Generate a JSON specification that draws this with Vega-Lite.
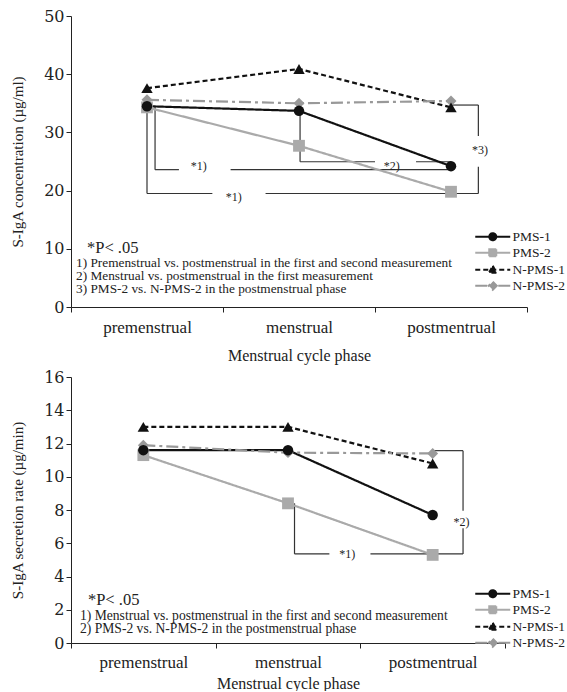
{
  "$schema": "https://vega.github.io/schema/vega-lite/v6.json",
  "padding": {"left": 10, "top": 8, "right": 0, "bottom": 0},
  "spacing": 6,
  "config": {
    "view": {"stroke": null},
    "axis": {"domainColor": "#222", "tickColor": "#222", "labelColor": "#222", "titleColor": "#222", "grid": false},
    "text": {"font": "Liberation Serif", "color": "#222"}
  },
  "datasets": {
    "top": [
      {"group": "PMS-1", "phase": "premenstrual", "x": 0.5, "v": 34.5},
      {"group": "PMS-1", "phase": "menstrual", "x": 1.5, "v": 33.7},
      {"group": "PMS-1", "phase": "postmentrual", "x": 2.5, "v": 24.2},
      {"group": "PMS-2", "phase": "premenstrual", "x": 0.5, "v": 34.3},
      {"group": "PMS-2", "phase": "menstrual", "x": 1.5, "v": 27.7},
      {"group": "PMS-2", "phase": "postmentrual", "x": 2.5, "v": 19.8},
      {"group": "N-PMS-1", "phase": "premenstrual", "x": 0.5, "v": 37.6},
      {"group": "N-PMS-1", "phase": "menstrual", "x": 1.5, "v": 40.9},
      {"group": "N-PMS-1", "phase": "postmentrual", "x": 2.5, "v": 34.3},
      {"group": "N-PMS-2", "phase": "premenstrual", "x": 0.5, "v": 35.6},
      {"group": "N-PMS-2", "phase": "menstrual", "x": 1.5, "v": 35.0},
      {"group": "N-PMS-2", "phase": "postmentrual", "x": 2.5, "v": 35.4}
    ],
    "bottom": [
      {"group": "PMS-1", "phase": "premenstrual", "x": 0.5, "v": 11.6},
      {"group": "PMS-1", "phase": "menstrual", "x": 1.5, "v": 11.6},
      {"group": "PMS-1", "phase": "postmentrual", "x": 2.5, "v": 7.7},
      {"group": "PMS-2", "phase": "premenstrual", "x": 0.5, "v": 11.3},
      {"group": "PMS-2", "phase": "menstrual", "x": 1.5, "v": 8.4},
      {"group": "PMS-2", "phase": "postmentrual", "x": 2.5, "v": 5.3},
      {"group": "N-PMS-1", "phase": "premenstrual", "x": 0.5, "v": 13.0},
      {"group": "N-PMS-1", "phase": "menstrual", "x": 1.5, "v": 13.0},
      {"group": "N-PMS-1", "phase": "postmentrual", "x": 2.5, "v": 10.8},
      {"group": "N-PMS-2", "phase": "premenstrual", "x": 0.5, "v": 11.9},
      {"group": "N-PMS-2", "phase": "menstrual", "x": 1.5, "v": 11.45},
      {"group": "N-PMS-2", "phase": "postmentrual", "x": 2.5, "v": 11.4}
    ],
    "topBr": [
      {"x": 0.553, "x2": 0.553, "v": 34.5, "v2": 23.6},
      {"x": 0.553, "x2": 0.71, "v": 23.6, "v2": 23.6},
      {"x": 1.05, "x2": 2.5, "v": 23.6, "v2": 23.6},
      {"x": 0.5, "x2": 0.5, "v": 34.3, "v2": 19.5},
      {"x": 0.5, "x2": 0.93, "v": 19.5, "v2": 19.5},
      {"x": 1.28, "x2": 2.68, "v": 19.5, "v2": 19.5},
      {"x": 2.68, "x2": 2.68, "v": 19.5, "v2": 24.1},
      {"x": 2.68, "x2": 2.68, "v": 29.4, "v2": 34.7},
      {"x": 2.5, "x2": 2.68, "v": 34.7, "v2": 34.7},
      {"x": 1.507, "x2": 1.507, "v": 33.7, "v2": 24.96},
      {"x": 1.507, "x2": 2.0, "v": 24.96, "v2": 24.96},
      {"x": 2.27, "x2": 2.5, "v": 24.96, "v2": 24.96}
    ],
    "topBrLabels": [
      {"x": 0.84, "v": 24.2, "t": "*1)"},
      {"x": 1.07, "v": 18.9, "t": "*1)"},
      {"x": 2.11, "v": 24.3, "t": "*2)"},
      {"x": 2.69, "v": 27.0, "t": "*3)"}
    ],
    "topNotes": [
      {"x": 0.033, "v": 7.6, "t": "1) Premenstrual vs. postmenstrual in the first and  second measurement"},
      {"x": 0.033, "v": 5.35, "t": "2) Menstrual vs. postmenstrual in the first measurement"},
      {"x": 0.033, "v": 3.1, "t": "3) PMS-2 vs. N-PMS-2 in the postmenstrual phase"}
    ],
    "topP": [{"x": 0.105, "v": 10.15, "t": "*P< .05"}],
    "botBr": [
      {"x": 1.545, "x2": 1.545, "v": 8.4, "v2": 5.36},
      {"x": 1.545, "x2": 1.786, "v": 5.36, "v2": 5.36},
      {"x": 2.07, "x2": 2.71, "v": 5.36, "v2": 5.36},
      {"x": 2.71, "x2": 2.71, "v": 5.36, "v2": 6.9},
      {"x": 2.71, "x2": 2.71, "v": 7.95, "v2": 11.57},
      {"x": 2.5, "x2": 2.71, "v": 11.57, "v2": 11.57}
    ],
    "botBrLabels": [
      {"x": 1.91, "v": 5.38, "t": "*1)"},
      {"x": 2.7, "v": 7.3, "t": "*2)"}
    ],
    "botNotes": [
      {"x": 0.062, "v": 1.65, "t": "1) Menstrual vs. postmenstrual in the first and  second measurement"},
      {"x": 0.062, "v": 0.85, "t": "2) PMS-2 vs. N-PMS-2 in the postmenstrual phase"}
    ],
    "botP": [{"x": 0.117, "v": 2.6, "t": "*P< .05"}]
  },
  "resolve": {
    "scale": {"fill": "independent", "stroke": "independent", "strokeDash": "independent", "shape": "independent"},
    "legend": {"fill": "independent", "stroke": "independent", "strokeDash": "independent", "shape": "independent"}
  },
  "vconcat": [
    {
      "width": 456,
      "height": 291,
      "layer": [
        {
          "data": {"name": "topBr"},
          "mark": {"type": "rule", "color": "#333", "strokeWidth": 1.2},
          "encoding": {
            "x": {"field": "x", "type": "quantitative", "scale": {"domain": [0, 3], "nice": false, "zero": false},
              "axis": {"title": "Menstrual cycle phase", "values": [0, 0.5, 1, 1.5, 2, 2.5, 3], "tickCount": 20,
                "labelExpr": "datum.value == 0.5 ? 'premenstrual' : datum.value == 1.5 ? 'menstrual' : datum.value == 2.5 ? 'postmentrual' : ''",
                "tickOpacity": {"condition": {"test": "datum.value % 1 !== 0", "value": 0}, "value": 1},
                "tickSize": 5, "labelPadding": 7, "labelFont": "Liberation Serif", "labelFontSize": 17,
                "labelFlush": false, "labelOverlap": false, "labelBound": false,
                "titleFont": "Liberation Serif", "titleFontSize": 16, "titleFontWeight": "normal", "titlePadding": 12}},
            "x2": {"field": "x2"},
            "y": {"field": "v", "type": "quantitative", "scale": {"domain": [0, 50], "nice": false},
              "axis": {"title": "S-IgA concentration (µg/ml)", "values": [0, 10, 20, 30, 40, 50], "tickCount": 20, "tickSize": 5, "labelPadding": 2,
                "labelOverlap": false, "labelFont": "DejaVu Serif", "labelFontSize": 16, "titleFont": "Liberation Serif", "titleFontSize": 15,
                "titleFontWeight": "normal", "titlePadding": 18}},
            "y2": {"field": "v2"}
          }
        },
        {
          "data": {"name": "top"},
          "mark": {"type": "line", "strokeWidth": 2.2},
          "encoding": {
            "x": {"field": "x", "type": "quantitative"},
            "y": {"field": "v", "type": "quantitative"},
            "stroke": {"field": "group", "type": "nominal", "scale": {"domain": ["PMS-1", "PMS-2", "N-PMS-1", "N-PMS-2"], "range": ["#111", "#aaa", "#111", "#999"]}},
            "strokeDash": {"field": "group", "type": "nominal", "scale": {"domain": ["PMS-1", "PMS-2", "N-PMS-1", "N-PMS-2"], "range": [[1, 0], [1, 0], [5, 3], [12, 4, 3, 4]]}}
          }
        },
        {"data": {"name": "top"}, "transform": [{"filter": "datum.group === 'PMS-2'"}],
          "mark": {"type": "point", "shape": "square", "filled": true, "color": "#aaa", "size": 140, "opacity": 1},
          "encoding": {"x": {"field": "x", "type": "quantitative"}, "y": {"field": "v", "type": "quantitative"}}},
        {"data": {"name": "top"}, "transform": [{"filter": "datum.group === 'N-PMS-2'"}],
          "mark": {"type": "point", "shape": "diamond", "filled": true, "color": "#999", "size": 120, "opacity": 1},
          "encoding": {"x": {"field": "x", "type": "quantitative"}, "y": {"field": "v", "type": "quantitative"}}},
        {"data": {"name": "top"}, "transform": [{"filter": "datum.group === 'PMS-1'"}],
          "mark": {"type": "point", "shape": "circle", "filled": true, "color": "#111", "size": 110, "opacity": 1},
          "encoding": {"x": {"field": "x", "type": "quantitative"}, "y": {"field": "v", "type": "quantitative"}}},
        {"data": {"name": "top"}, "transform": [{"filter": "datum.group === 'N-PMS-1'"}],
          "mark": {"type": "point", "shape": "triangle-up", "filled": true, "color": "#111", "size": 130, "opacity": 1},
          "encoding": {"x": {"field": "x", "type": "quantitative"}, "y": {"field": "v", "type": "quantitative"}}},
        {"data": {"name": "topBrLabels"},
          "mark": {"type": "text", "fontSize": 12, "align": "center", "baseline": "middle"},
          "encoding": {"x": {"field": "x", "type": "quantitative"}, "y": {"field": "v", "type": "quantitative"}, "text": {"field": "t"}}},
        {"data": {"name": "topNotes"},
          "mark": {"type": "text", "fontSize": 13.3, "align": "left", "baseline": "middle"},
          "encoding": {"x": {"field": "x", "type": "quantitative"}, "y": {"field": "v", "type": "quantitative"}, "text": {"field": "t"}}},
        {"data": {"name": "topP"},
          "mark": {"type": "text", "fontSize": 16.5, "align": "left", "baseline": "middle"},
          "encoding": {"x": {"field": "x", "type": "quantitative"}, "y": {"field": "v", "type": "quantitative"}, "text": {"field": "t"}}},
        {
          "data": {"name": "top"},
          "mark": {"type": "point", "opacity": 0},
          "encoding": {
            "x": {"field": "x", "type": "quantitative"},
            "y": {"field": "v", "type": "quantitative"},
            "fill": {"field": "group", "type": "nominal", "scale": {"domain": ["PMS-1", "PMS-2", "N-PMS-1", "N-PMS-2"], "range": ["#111", "#aaa", "#111", "#999"]},
              "legend": {"orient": "none", "legendX": 415, "legendY": 214, "title": null, "padding": 0, "rowPadding": 0, "labelOffset": 13, "symbolSize": 100, "symbolStrokeWidth": 2, "symbolOpacity": 1, "labelFont": "Liberation Serif", "labelFontSize": 13.5, "labelColor": "#222"}},
            "shape": {"field": "group", "type": "nominal", "scale": {"domain": ["PMS-1", "PMS-2", "N-PMS-1", "N-PMS-2"], "range": [
              "M-3.5,0H3.5M-0.7,0A0.7,0.7,0,1,1,0.7,0A0.7,0.7,0,1,1,-0.7,0Z",
              "M-3.5,0H3.5M-0.7,-0.7H0.7V0.7H-0.7Z",
              "M-3.5,0H3.5M0,-0.8L0.75,0.6H-0.75Z",
              "M-3.5,0H3.5M0,-0.8L0.8,0L0,0.8L-0.8,0Z"]},
              "legend": {"orient": "none", "legendX": 415, "legendY": 214, "title": null, "padding": 0, "rowPadding": 0, "labelOffset": 13, "symbolSize": 100, "symbolStrokeWidth": 2, "symbolOpacity": 1, "labelFont": "Liberation Serif", "labelFontSize": 13.5, "labelColor": "#222"}}
          }
        }
      ]
    },
    {
      "width": 434,
      "height": 266,
      "layer": [
        {
          "data": {"name": "botBr"},
          "mark": {"type": "rule", "color": "#333", "strokeWidth": 1.2},
          "encoding": {
            "x": {"field": "x", "type": "quantitative", "scale": {"domain": [0, 3], "nice": false, "zero": false},
              "axis": {"title": "Menstrual cycle phase", "values": [0, 0.5, 1, 1.5, 2, 2.5, 3], "tickCount": 20,
                "labelExpr": "datum.value == 0.5 ? 'premenstrual' : datum.value == 1.5 ? 'menstrual' : datum.value == 2.5 ? 'postmentrual' : ''",
                "tickOpacity": {"condition": {"test": "datum.value % 1 !== 0", "value": 0}, "value": 1},
                "tickSize": 5, "labelPadding": 6, "labelFont": "Liberation Serif", "labelFontSize": 17,
                "labelFlush": false, "labelOverlap": false, "labelBound": false,
                "titleFont": "Liberation Serif", "titleFontSize": 16, "titleFontWeight": "normal", "titlePadding": 5}},
            "x2": {"field": "x2"},
            "y": {"field": "v", "type": "quantitative", "scale": {"domain": [0, 16], "nice": false},
              "axis": {"title": "S-IgA secretion rate (µg/min)", "values": [0, 2, 4, 6, 8, 10, 12, 14, 16], "tickCount": 20, "tickSize": 5, "labelPadding": 2,
                "labelOverlap": false, "labelFont": "DejaVu Serif", "labelFontSize": 16, "titleFont": "Liberation Serif", "titleFontSize": 15,
                "titleFontWeight": "normal", "titlePadding": 18}},
            "y2": {"field": "v2"}
          }
        },
        {
          "data": {"name": "bottom"},
          "mark": {"type": "line", "strokeWidth": 2.2},
          "encoding": {
            "x": {"field": "x", "type": "quantitative"},
            "y": {"field": "v", "type": "quantitative"},
            "stroke": {"field": "group", "type": "nominal", "scale": {"domain": ["PMS-1", "PMS-2", "N-PMS-1", "N-PMS-2"], "range": ["#111", "#aaa", "#111", "#999"]}},
            "strokeDash": {"field": "group", "type": "nominal", "scale": {"domain": ["PMS-1", "PMS-2", "N-PMS-1", "N-PMS-2"], "range": [[1, 0], [1, 0], [5, 3], [12, 4, 3, 4]]}}
          }
        },
        {"data": {"name": "bottom"}, "transform": [{"filter": "datum.group === 'PMS-2'"}],
          "mark": {"type": "point", "shape": "square", "filled": true, "color": "#aaa", "size": 140, "opacity": 1},
          "encoding": {"x": {"field": "x", "type": "quantitative"}, "y": {"field": "v", "type": "quantitative"}}},
        {"data": {"name": "bottom"}, "transform": [{"filter": "datum.group === 'N-PMS-2'"}],
          "mark": {"type": "point", "shape": "diamond", "filled": true, "color": "#999", "size": 120, "opacity": 1},
          "encoding": {"x": {"field": "x", "type": "quantitative"}, "y": {"field": "v", "type": "quantitative"}}},
        {"data": {"name": "bottom"}, "transform": [{"filter": "datum.group === 'PMS-1'"}],
          "mark": {"type": "point", "shape": "circle", "filled": true, "color": "#111", "size": 110, "opacity": 1},
          "encoding": {"x": {"field": "x", "type": "quantitative"}, "y": {"field": "v", "type": "quantitative"}}},
        {"data": {"name": "bottom"}, "transform": [{"filter": "datum.group === 'N-PMS-1'"}],
          "mark": {"type": "point", "shape": "triangle-up", "filled": true, "color": "#111", "size": 130, "opacity": 1},
          "encoding": {"x": {"field": "x", "type": "quantitative"}, "y": {"field": "v", "type": "quantitative"}}},
        {"data": {"name": "botBrLabels"},
          "mark": {"type": "text", "fontSize": 12, "align": "center", "baseline": "middle"},
          "encoding": {"x": {"field": "x", "type": "quantitative"}, "y": {"field": "v", "type": "quantitative"}, "text": {"field": "t"}}},
        {"data": {"name": "botNotes"},
          "mark": {"type": "text", "fontSize": 13.6, "align": "left", "baseline": "middle"},
          "encoding": {"x": {"field": "x", "type": "quantitative"}, "y": {"field": "v", "type": "quantitative"}, "text": {"field": "t"}}},
        {"data": {"name": "botP"},
          "mark": {"type": "text", "fontSize": 16.5, "align": "left", "baseline": "middle"},
          "encoding": {"x": {"field": "x", "type": "quantitative"}, "y": {"field": "v", "type": "quantitative"}, "text": {"field": "t"}}},
        {
          "data": {"name": "bottom"},
          "mark": {"type": "point", "opacity": 0},
          "encoding": {
            "x": {"field": "x", "type": "quantitative"},
            "y": {"field": "v", "type": "quantitative"},
            "fill": {"field": "group", "type": "nominal", "scale": {"domain": ["PMS-1", "PMS-2", "N-PMS-1", "N-PMS-2"], "range": ["#111", "#aaa", "#111", "#999"]},
              "legend": {"orient": "none", "legendX": 415, "legendY": 210, "title": null, "padding": 0, "rowPadding": 0, "labelOffset": 13, "symbolSize": 100, "symbolStrokeWidth": 2, "symbolOpacity": 1, "labelFont": "Liberation Serif", "labelFontSize": 13.5, "labelColor": "#222"}},
            "shape": {"field": "group", "type": "nominal", "scale": {"domain": ["PMS-1", "PMS-2", "N-PMS-1", "N-PMS-2"], "range": [
              "M-3.5,0H3.5M-0.7,0A0.7,0.7,0,1,1,0.7,0A0.7,0.7,0,1,1,-0.7,0Z",
              "M-3.5,0H3.5M-0.7,-0.7H0.7V0.7H-0.7Z",
              "M-3.5,0H3.5M0,-0.8L0.75,0.6H-0.75Z",
              "M-3.5,0H3.5M0,-0.8L0.8,0L0,0.8L-0.8,0Z"]},
              "legend": {"orient": "none", "legendX": 415, "legendY": 210, "title": null, "padding": 0, "rowPadding": 0, "labelOffset": 13, "symbolSize": 100, "symbolStrokeWidth": 2, "symbolOpacity": 1, "labelFont": "Liberation Serif", "labelFontSize": 13.5, "labelColor": "#222"}}
          }
        }
      ]
    }
  ]
}
